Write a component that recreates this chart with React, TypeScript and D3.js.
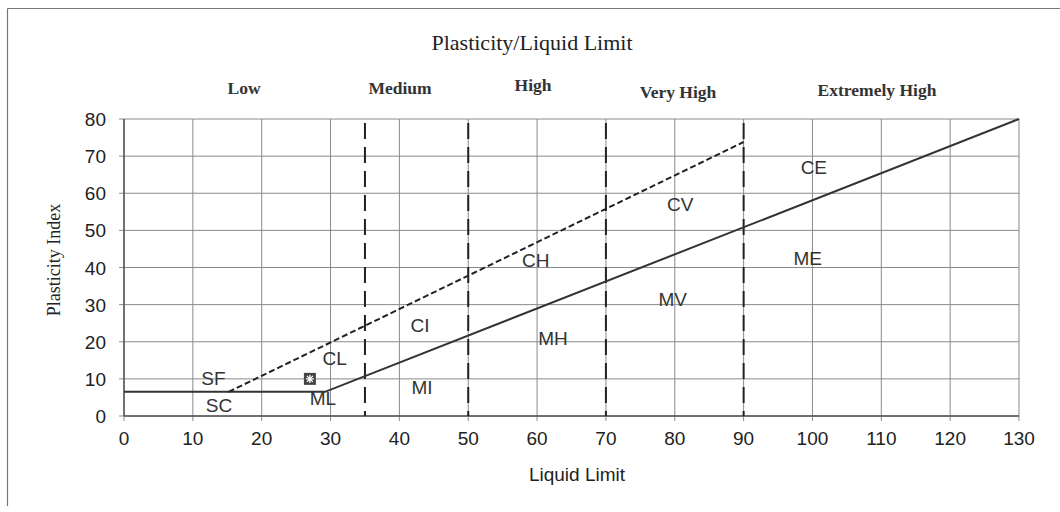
import React from "react";
import * as d3 from "d3";

const xTicks = [0, 10, 20, 30, 40, 50, 60, 70, 80, 90, 100, 110, 120, 130];
const yTicks = [0, 10, 20, 30, 40, 50, 60, 70, 80];
const aLine: [number, number][] = [[0, 6.5], [29.2, 6.5], [130, 80]];
const uLine: [number, number][] = [[15.2, 6.5], [90, 73.8]];
const dividers = [35, 50, 70, 90];
const bands = [
  { name: "Low", x: 244, y: 94 },
  { name: "Medium", x: 400, y: 94 },
  { name: "High", x: 533, y: 91 },
  { name: "Very High", x: 678, y: 98 },
  { name: "Extremely High", x: 877, y: 96 },
];
const zones = [
  { name: "SF", ll: 13.0, pi: 10.2 },
  { name: "SC", ll: 13.8, pi: 3.0 },
  { name: "ML", ll: 28.9, pi: 4.9 },
  { name: "CL", ll: 30.6, pi: 15.6 },
  { name: "MI", ll: 43.3, pi: 7.8 },
  { name: "CI", ll: 43.0, pi: 24.5 },
  { name: "MH", ll: 62.3, pi: 21.0 },
  { name: "CH", ll: 59.8, pi: 42.0 },
  { name: "MV", ll: 79.7, pi: 31.5 },
  { name: "CV", ll: 80.8, pi: 57.0 },
  { name: "CE", ll: 100.2, pi: 67.0 },
  { name: "ME", ll: 99.3, pi: 42.6 },
];
const samples: [number, number][] = [[27, 10]];

export default function App() {
  const x = d3.scaleLinear().domain([0, 130]).range([124, 1019]);
  const y = d3.scaleLinear().domain([0, 80]).range([416, 119]);
  const line = d3.line<[number, number]>().x((d) => x(d[0])).y((d) => y(d[1]));
  const serif = "'Liberation Serif', 'Times New Roman', serif";
  const sans = "'Liberation Sans', Arial, sans-serif";
  return (
    <svg width={1060} height={512} style={{ position: "absolute", left: 0, top: 0, background: "#fff" }}>
      <rect x={0} y={0} width={1060} height={512} fill="#fff" />
      {/* frame */}
      <line x1={7.5} y1={8.5} x2={1060} y2={8.5} stroke="#777" strokeWidth={1.2} />
      <line x1={7.5} y1={8.5} x2={7.5} y2={506} stroke="#777" strokeWidth={1.2} />
      {/* title */}
      <text x={532} y={50} textAnchor="middle" fontFamily={serif} fontSize={22} fill="#222">
        Plasticity/Liquid Limit
      </text>
      {bands.map((b) => (
        <text key={b.name} x={b.x} y={b.y} textAnchor="middle" fontFamily={serif} fontWeight="bold" fontSize={17.5} fill="#333">
          {b.name}
        </text>
      ))}
      {/* grid */}
      {xTicks.map((t) => (
        <line key={"gx" + t} x1={x(t)} x2={x(t)} y1={y(80)} y2={y(0) + 5} stroke="#8a8a8a" strokeWidth={1} />
      ))}
      {yTicks.map((t) => (
        <line key={"gy" + t} x1={x(0) - 5} x2={x(130)} y1={y(t)} y2={y(t)} stroke="#8a8a8a" strokeWidth={1} />
      ))}
      <line x1={x(0)} x2={x(0)} y1={y(80)} y2={y(0)} stroke="#555" strokeWidth={1.5} />
      <line x1={x(0)} x2={x(130)} y1={y(0)} y2={y(0)} stroke="#555" strokeWidth={1.5} />
      {/* dividers */}
      {dividers.map((d) => (
        <line key={"d" + d} x1={x(d)} x2={x(d)} y1={y(80)} y2={y(0)} stroke="#222" strokeWidth={2} strokeDasharray="16,8" strokeDashoffset={-4} />
      ))}
      {/* lines */}
      <path d={line(aLine) || ""} fill="none" stroke="#333" strokeWidth={2} />
      <path d={line(uLine) || ""} fill="none" stroke="#222" strokeWidth={2} strokeDasharray="6,3" />
      {/* zone labels */}
      {zones.map((z) => (
        <text key={z.name} x={x(z.ll)} y={y(z.pi) + 7} textAnchor="middle" fontFamily={sans} fontSize={19} fill="#333">
          {z.name}
        </text>
      ))}
      {/* sample */}
      {samples.map((s, i) => (
        <g key={"s" + i} transform={`translate(${x(s[0])},${y(s[1])})`}>
          <rect x={-6} y={-6} width={12} height={12} fill="#444" />
          <path d="M-3,-3L3,3M3,-3L-3,3M0,-4L0,4M-4,0L4,0" stroke="#fff" strokeWidth={1.3} />
        </g>
      ))}
      {/* ticks */}
      {xTicks.map((t) => (
        <text key={"tx" + t} x={x(t)} y={445} textAnchor="middle" fontFamily={sans} fontSize={19} fill="#222">
          {t}
        </text>
      ))}
      {yTicks.map((t) => (
        <text key={"ty" + t} x={106} y={y(t) + 7} textAnchor="end" fontFamily={sans} fontSize={19} fill="#222">
          {t}
        </text>
      ))}
      <text x={577} y={481} textAnchor="middle" fontFamily={sans} fontSize={19} fill="#222">
        Liquid Limit
      </text>
      <text transform={`translate(60,260) rotate(-90)`} textAnchor="middle" fontFamily={serif} fontSize={18} fill="#222">
        Plasticity Index
      </text>
    </svg>
  );
}
